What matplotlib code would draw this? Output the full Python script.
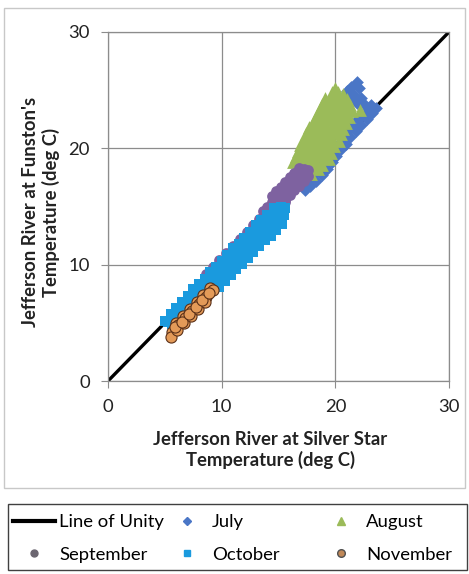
import matplotlib
matplotlib.use("Agg")
import matplotlib.pyplot as plt
from matplotlib.lines import Line2D
from matplotlib.patches import Rectangle

# ── Data (deg C) ──────────────────────────────────────────────────────────────

unity_x = [0, 30]
unity_y = [0, 30]

july_x = [23.6, 23.2, 22.8, 22.3, 21.8, 21.3, 20.9, 20.5, 20.1, 19.7, 19.3, 18.8, 18.3, 17.8, 17.3,
          23.0, 22.5, 22.0, 21.5, 21.0, 20.6, 20.2, 19.8, 19.4, 19.0, 18.5, 18.0,
          21.0, 21.4, 21.9, 22.1, 21.6, 22.3, 21.9, 21.3, 22.6, 23.1]
july_y = [23.5, 23.0, 22.5, 22.0, 21.5, 21.0, 20.4, 19.9, 19.3, 18.8, 18.2, 17.7, 17.2, 16.8, 16.4,
          23.4, 22.9, 22.5, 22.0, 21.5, 20.9, 20.3, 19.8, 19.2, 18.7, 18.2, 17.7,
          24.9, 25.3, 25.7, 25.2, 24.6, 24.3, 23.9, 24.2, 23.7, 23.7]

aug_x = [19.95,
         19.7, 20.2, 20.7,
         19.1, 19.6, 20.1, 20.6, 21.0,
         18.8, 19.3, 19.8, 20.3, 20.8, 21.3,
         18.6, 19.1, 19.6, 20.1, 20.6, 21.1, 21.5, 22.2,
         18.3, 18.8, 19.3, 19.8, 20.3, 20.8, 21.2,
         18.0, 18.5, 19.0, 19.5, 20.0, 20.5, 20.9,
         17.7, 18.2, 18.7, 19.2, 19.7, 20.2, 20.7,
         17.4, 17.9, 18.4, 18.9, 19.4, 19.9, 20.5,
         17.2, 17.7, 18.2, 18.7, 19.2, 19.7, 20.3,
         16.9, 17.4, 17.9, 18.4, 18.9, 19.4, 19.9,
         16.7, 17.2, 17.7, 18.2, 18.7, 19.2, 19.6,
         16.5, 17.0, 17.5, 18.0, 18.5, 19.0, 19.4,
         16.3, 16.8, 17.3, 17.8, 18.3, 18.8,
         16.5, 17.0, 17.5, 18.0, 18.5,
         16.9, 17.4, 17.9]
aug_y = [25.2,
         24.8, 24.8, 24.7,
         24.3, 24.3, 24.4, 24.3, 24.2,
         23.8, 23.8, 23.9, 23.8, 23.8, 23.7,
         23.3, 23.3, 23.3, 23.4, 23.3, 23.3, 23.2, 23.3,
         22.8, 22.8, 22.9, 22.8, 22.8, 22.8, 22.7,
         22.3, 22.3, 22.3, 22.4, 22.3, 22.3, 22.2,
         21.8, 21.8, 21.9, 21.8, 21.8, 21.8, 21.7,
         21.3, 21.3, 21.3, 21.4, 21.3, 21.3, 21.2,
         20.8, 20.8, 20.8, 20.9, 20.8, 20.8, 20.6,
         20.3, 20.3, 20.3, 20.3, 20.4, 20.3, 20.2,
         19.8, 19.8, 19.8, 19.8, 19.8, 19.7, 19.6,
         19.3, 19.3, 19.3, 19.3, 19.3, 19.2, 19.1,
         18.8, 18.8, 18.8, 18.8, 18.8, 18.6,
         18.3, 18.3, 18.3, 18.3, 18.2,
         17.8, 17.8, 17.8]

sep_x = [14.4, 14.8, 15.2, 15.6, 16.0, 16.4, 16.8,
         13.6, 14.0, 14.4, 14.8, 15.2, 15.6, 16.0, 16.4, 16.8, 17.2,
         14.4, 14.8, 15.2, 15.6, 16.0, 16.4, 16.8, 17.2, 17.6,
         15.2, 15.6, 16.0, 16.4, 16.8, 17.2, 17.6, 15.0, 15.6,
         8.6, 9.2, 9.8, 10.4, 11.0, 11.6, 12.2, 12.8, 13.3]
sep_y = [15.9, 16.3, 16.7, 17.1, 17.5, 17.9, 18.3,
         14.6, 15.0, 15.4, 15.8, 16.2, 16.6, 17.0, 17.4, 17.8, 18.2,
         14.9, 15.3, 15.7, 16.1, 16.5, 16.9, 17.3, 17.7, 18.1,
         15.2, 15.6, 16.0, 16.4, 16.8, 17.2, 17.6, 14.8, 15.4,
         9.2, 9.8, 10.4, 11.0, 11.6, 12.2, 12.8, 13.4, 13.9]

oct_x = [5.0, 5.5, 6.0, 6.5, 7.0, 7.5, 8.0, 8.5, 9.0, 9.5, 10.0, 10.5, 11.0, 11.5, 12.0, 12.5,
         13.0, 13.5, 14.0, 14.6,
         5.3, 5.8, 6.3, 6.8, 7.3, 7.8, 8.3, 8.8, 9.3, 9.8, 10.3, 10.8, 11.3, 11.8, 12.3, 12.8,
         13.3, 13.8, 14.3, 14.8, 15.2,
         5.6, 6.1, 6.6, 7.1, 7.6, 8.1, 8.6, 9.1, 9.6, 10.1, 10.6, 11.1, 11.6, 12.1, 12.6, 13.1,
         13.6, 14.1, 14.6, 15.1, 15.6,
         6.0, 6.5, 7.0, 7.5, 8.0, 8.5,
         9.0, 9.5, 10.0, 10.5, 11.0, 11.5, 12.0, 12.5, 13.0, 13.5, 14.0, 14.5, 15.0, 15.5,
         9.8, 10.3, 10.8, 11.3, 11.8, 12.3, 12.8, 13.3, 13.8, 14.3, 14.8, 15.3]
oct_y = [5.2, 5.8, 6.3, 6.8, 7.3, 7.9, 8.3, 8.8, 9.4, 9.8, 10.3, 10.8, 11.4, 11.8, 12.3, 12.8,
         13.4, 13.8, 14.3, 14.9,
         5.1, 5.6, 6.1, 6.6, 7.1, 7.6, 8.1, 8.6, 9.1, 9.6, 10.1, 10.6, 11.1, 11.6, 12.1, 12.6,
         13.1, 13.6, 14.1, 14.6, 15.0,
         4.9, 5.4, 5.9, 6.4, 6.9, 7.4, 7.9, 8.4, 8.9, 9.4, 9.9, 10.4, 10.9, 11.4, 11.9, 12.4,
         12.9, 13.4, 13.9, 14.4, 14.9,
         4.9, 5.4, 5.9, 6.4, 6.9, 7.4,
         7.8, 8.3, 8.8, 9.3, 9.8, 10.3, 10.8, 11.3, 11.8, 12.3, 12.8, 13.3, 13.8, 14.3,
         8.1, 8.6, 9.1, 9.6, 10.1, 10.6, 11.1, 11.6, 12.1, 12.5, 13.0, 13.5]

nov_x = [6.0, 6.6, 7.2, 7.8, 8.4, 9.0,
         5.6, 6.2, 6.8, 7.4, 8.0, 8.6, 9.2,
         5.5, 6.1, 6.7, 7.3, 7.9, 8.5,
         5.9, 6.5, 7.1, 7.7, 8.3, 8.9]
nov_y = [5.0, 5.6, 6.2, 6.8, 7.4, 8.0,
         4.2, 4.8, 5.4, 6.0, 6.6, 7.2, 7.8,
         3.8, 4.4, 5.0, 5.6, 6.2, 6.8,
         4.6, 5.1, 5.8, 6.4, 7.0, 7.6]

ticks = [0, 10, 20, 30]

# ── Style ─────────────────────────────────────────────────────────────────────

JULY_COLOR = "#4A76C6"
AUG_COLOR = "#9BBB59"
SEP_COLOR = "#7E62A0"
OCT_COLOR = "#1A9ADE"
NOV_FACE = "#E39A58"
NOV_EDGE = "#5A3018"
GRID_COLOR = "#8C8C8C"
FONT = "Lato"
FS = 13.3

W, H = 469, 574
fig = plt.figure(figsize=(W / 100, H / 100), dpi=100)

# chart-area border
fig.patches.append(Rectangle((4 / W, 1 - 488 / H), 461 / W, 480 / H, transform=fig.transFigure,
                             fill=False, edgecolor="#C8C8C8", linewidth=1.0))

ax = fig.add_axes([108 / W, 1 - 381 / H, 341 / W, 349 / H])

ax.plot(unity_x, unity_y, color="black", linewidth=2.4, zorder=2, solid_capstyle="butt")
ax.scatter(july_x, july_y, marker="D", s=42, color=JULY_COLOR, linewidths=0, zorder=3)
ax.scatter(aug_x, aug_y, marker="^", s=85, color=AUG_COLOR, linewidths=0, zorder=4)
ax.scatter(sep_x, sep_y, marker="o", s=60, color=SEP_COLOR, linewidths=0, zorder=5)
ax.scatter(oct_x, oct_y, marker="s", s=46, color=OCT_COLOR, linewidths=0, zorder=6)
ax.scatter(nov_x, nov_y, marker="o", s=64, facecolor=NOV_FACE, edgecolor=NOV_EDGE,
           linewidths=0.8, zorder=7)

ax.set_xlim(0, 30)
ax.set_ylim(0, 30)
ax.set_xticks(ticks)
ax.set_yticks(ticks)
ax.set_axisbelow(True)
ax.grid(color=GRID_COLOR, linewidth=0.9)
for s in ax.spines.values():
    s.set_color(GRID_COLOR)
    s.set_linewidth(0.9)
ax.tick_params(direction="out", length=5, color=GRID_COLOR, labelsize=FS, pad=8,
               labelcolor="#222222")
for lab in ax.get_xticklabels() + ax.get_yticklabels():
    lab.set_family(FONT)

fig.text(270 / W, 1 - 450 / H, "Jefferson River at Silver Star\nTemperature (deg C)",
         ha="center", va="center", ma="center", fontsize=FS, fontweight="bold",
         family=FONT, linespacing=1.25, color="#222222")
fig.text(41 / W, 1 - 212 / H, "Jefferson River at Funston's\nTemperature (deg C)",
         ha="center", va="center", ma="center", rotation=90, fontsize=FS,
         fontweight="bold", family=FONT, linespacing=1.25, color="#222222")

# ── Legend: three columns placed by hand inside one frame ─────────────────────

fig.patches.append(Rectangle((8 / W, 1 - 570 / H), 459 / W, 66 / H, transform=fig.transFigure,
                             fill=False, edgecolor="#404040", linewidth=1.0))

h_unity = Line2D([], [], color="black", linewidth=3)
h_july = Line2D([], [], marker="D", markersize=4.5, color=JULY_COLOR, linestyle="none")
h_aug = Line2D([], [], marker="^", markersize=6, color=AUG_COLOR, linestyle="none")
h_sep = Line2D([], [], marker="o", markersize=5, color="#6B6670", linestyle="none")
h_oct = Line2D([], [], marker="s", markersize=5, color=OCT_COLOR, linestyle="none")
h_nov = Line2D([], [], marker="o", markersize=5.5, markerfacecolor="#C08858",
               markeredgecolor="#505050", linestyle="none")

columns = [
    (13, [h_unity, h_sep], ["Line of Unity", "September"]),
    (166, [h_july, h_oct], ["July", "October"]),
    (320, [h_aug, h_nov], ["August", "November"]),
]
for x0, handles, labels in columns:
    fig.legend(handles, labels, loc="upper left", bbox_to_anchor=(x0 / W, 1 - 514 / H),
               frameon=False, borderpad=0, borderaxespad=0, handlelength=2.3,
               handletextpad=0.2, labelspacing=0.9, prop={"family": FONT, "size": FS})

fig.savefig("out.png", dpi=100)
